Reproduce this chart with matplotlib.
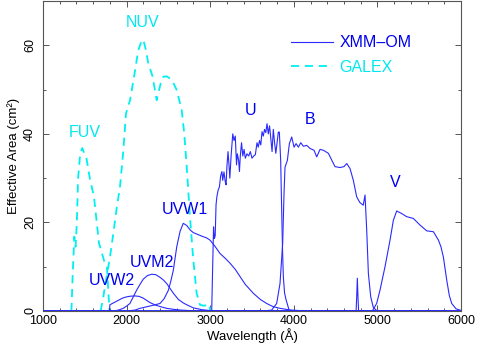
import matplotlib
matplotlib.use('Agg')
import matplotlib.pyplot as plt
from matplotlib.ticker import MultipleLocator

plt.rcParams['font.family'] = ['Liberation Sans', 'DejaVu Sans']

# GALEX effective areas (dashed cyan)
fuv_wave = [1340, 1355, 1375, 1390, 1405, 1420, 1445, 1470, 1495, 1520, 1560, 1610, 1670, 1740, 1765, 1780, 1795]
fuv_area = [0, 8, 16.8, 14.5, 20, 30, 35.5, 36.8, 35.5, 34.5, 30, 25.8, 15.3, 10.8, 10, 5, 0]

nuv_wave = [1690, 1720, 1754, 1800, 1841, 1880, 1921, 1960, 1993, 2041, 2090, 2140, 2170, 2200, 2230, 2260,
            2312, 2360, 2390, 2408, 2440, 2480, 2520, 2560, 2600, 2659, 2690, 2719, 2758, 2798, 2838, 2878,
            2920, 2960, 2990, 3000]
nuv_area = [0, 3, 7, 12, 17.5, 23, 28, 36, 44.6, 47.6, 53, 58.9, 60.5, 61.3, 59, 55.9,
            52.9, 47.6, 50, 51.4, 52.9, 53, 52.5, 51.5, 49.9, 45.4, 40, 32.6, 21.3, 11.5, 4, 1.4,
            1.2, 1.3, 1.5, 0]

# XMM-OM effective areas (solid blue)
uvw2_wave = [1795, 1800, 1850, 1900, 1950, 2000, 2050, 2100, 2150, 2200, 2280, 2350, 2420, 2480, 2550, 2650, 2800, 3000, 6000]
uvw2_area = [0, 1.4, 1.9, 2.4, 2.9, 3.2, 3.35, 3.4, 3.3, 2.9, 1.9, 1.3, 0.9, 0.6, 0.4, 0.2, 0.05, 0, 0]

uvm2_wave = [1000, 1850, 1900, 1960, 2000, 2040, 2080, 2120, 2160, 2200, 2250, 2300, 2350, 2400, 2440, 2480,
             2520, 2560, 2620, 2680, 2720, 2800, 2900, 3000, 6000]
uvm2_area = [0, 0, 0.2, 0.6, 1.1, 1.7, 3.2, 4.7, 6.0, 7.2, 8.0, 8.3, 8.2, 7.6, 7.0, 6.2,
             5.1, 4.0, 2.6, 1.8, 1.4, 0.7, 0.3, 0.1, 0]

uvw1_wave = [1000, 2000, 2100, 2160, 2250, 2320, 2400, 2450, 2500, 2530, 2559, 2600, 2640, 2678, 2720, 2760,
             2798, 2850, 2900, 2958, 2998, 3050, 3117, 3180, 3237, 3300, 3356, 3420, 3516, 3600, 3675,
             3750, 3835, 3950, 4100, 6000]
uvw1_area = [0, 0, 0.2, 0.6, 1.0, 1.3, 1.7, 2.8, 4.7, 6.8, 9.2, 14.5, 18.0, 19.8, 19.3, 18.3,
             17.7, 17.3, 16.9, 16.5, 16.0, 14.8, 13.0, 11.9, 10.8, 9.4, 7.8, 6.0, 4.0, 2.6, 1.7,
             1.0, 0.6, 0.25, 0.05, 0]

u_wave = [1000, 3018, 3025, 3032, 3040, 3050, 3060, 3070, 3080, 3095, 3110, 3125, 3140, 3150, 3165, 3180,
          3190, 3200, 3213, 3225, 3235, 3250, 3270, 3285, 3300, 3315, 3325, 3340, 3350, 3360, 3375,
          3390, 3405, 3420, 3440, 3460, 3480, 3500, 3520, 3540, 3560, 3575, 3590, 3605, 3620, 3635,
          3650, 3665, 3680, 3695, 3710, 3725, 3740, 3755, 3770, 3785, 3800, 3815, 3827, 3843, 3855,
          3865, 3875, 3890, 3908, 3947, 6000]
u_area = [0, 0, 6, 12, 19, 16.4, 17, 24, 25.8, 27.3, 28, 30.5, 31.5, 29.5, 31.4, 29.2,
          28.5, 32.6, 36, 33, 30, 35, 40, 38.5, 39.5, 33, 35.5, 34, 31.5, 35, 38,
          35, 36.5, 34.5, 35.5, 35, 36, 34.5, 35, 35.3, 38, 37, 38.5, 37.5, 40.5, 39.5,
          41, 40.3, 42.3, 40, 41.8, 39, 36, 41, 38, 35.6, 38, 40.4, 40.4, 34, 22.8,
          14, 7.7, 4, 2.5, 0, 0]

b_wave = [1000, 3600, 3680, 3735, 3795, 3835, 3867, 3883, 3895, 3923, 3947, 3975, 4003, 4027, 4055, 4083,
          4115, 4155, 4195, 4242, 4274, 4314, 4354, 4414, 4453, 4493, 4553, 4600, 4633, 4672, 4712,
          4752, 4790, 4831, 4852, 4872, 4892, 4920, 4951, 4991, 5050, 6000]
b_area = [0, 0, 0.1, 0.2, 1.7, 6.2, 15.3, 26.5, 32.5, 34, 37.8, 39.3, 37, 37.8, 37, 38,
          37.2, 37.4, 36.7, 36.3, 34.8, 36.5, 36.3, 35.6, 34.1, 32.6, 32.4, 32.6, 33.3, 32.2, 29.5,
          25.8, 24.5, 23.9, 26.2, 18.3, 8.5, 3.2, 0.8, 0.1, 0, 0]

v_wave = [1000, 4745, 4752, 4760, 4768, 4775, 4940, 4951, 4991, 5031, 5091, 5151, 5191, 5231, 5260, 5291,
          5350, 5430, 5510, 5590, 5670, 5730, 5760, 5789, 5829, 5860, 5889, 5940, 5990, 6000]
v_area = [0, 0, 3, 7.4, 3, 0, 0, 0.4, 1.7, 4.7, 10, 16, 20.5, 22.6, 22.3, 22,
          21.3, 20.9, 19.4, 18.1, 17.9, 16, 14.5, 12.2, 7, 3.5, 1.7, 0.5, 0.2, 0]

xmm_curves = [(uvw2_wave, uvw2_area), (uvm2_wave, uvm2_area), (uvw1_wave, uvw1_area),
              (u_wave, u_area), (b_wave, b_area), (v_wave, v_area)]

# filter name labels (text, x, y)
galex_labels = [('NUV', 2196, 65.2), ('FUV', 1502, 40.2)]
xmm_labels = [('U', 3488, 45.3), ('B', 4194, 43.3), ('V', 5211, 29.1),
              ('UVW1', 2699, 23.0), ('UVM2', 2304, 11.0), ('UVW2', 1825, 7.0)]

blue = '#2a2aff'
cyan = '#00f0f0'

fig = plt.figure(figsize=(4.84, 3.43), dpi=100)
ax = fig.add_axes([0.0888, 0.0933, 0.8637, 0.9037])

for i, (w, a) in enumerate(xmm_curves):
    ax.plot(w, a, color=blue, lw=0.8, label='XMM\u2013OM' if i == 0 else None, zorder=3)

ax.plot(fuv_wave, fuv_area, color=cyan, lw=1.3, dashes=(4.5, 3.2), label='GALEX', zorder=2)
ax.plot(nuv_wave, nuv_area, color=cyan, lw=1.3, dashes=(4.5, 3.2), zorder=2)

for txt, x, y in galex_labels:
    ax.text(x, y, txt, color='#00e8f0', fontsize=11.5, ha='center', va='center')
for txt, x, y in xmm_labels:
    ax.text(x, y, txt, color='#0000ee', fontsize=11.5, ha='center', va='center')

ax.set_xlim(1000, 6000)
ax.set_ylim(0, 70)
ax.xaxis.set_major_locator(MultipleLocator(1000))
ax.xaxis.set_minor_locator(MultipleLocator(200))
ax.yaxis.set_major_locator(MultipleLocator(20))
ax.yaxis.set_minor_locator(MultipleLocator(10))
ax.tick_params(which='both', direction='in', top=True, right=True, color='#555555', labelsize=9)
ax.tick_params(which='major', length=4.5, width=0.7)
ax.tick_params(which='minor', length=2.5, width=0.7)
ax.tick_params(axis='x', pad=3)
ax.tick_params(axis='y', pad=5)
for lab in ax.get_yticklabels():
    lab.set_rotation(90)
    lab.set_va('center')
for s in ax.spines.values():
    s.set_color('#555555')
    s.set_linewidth(0.8)

ax.set_xlabel('Wavelength (\u00c5)', fontsize=9.5, labelpad=1)
ax.set_ylabel('Effective Area (cm\u00b2)', fontsize=9.5, labelpad=3)

leg = ax.legend(loc='upper left', bbox_to_anchor=(0.574, 0.915), frameon=False, fontsize=11.5,
                handlelength=2.65, handletextpad=0.4, labelspacing=0.6, borderpad=0,
                labelcolor=['#0000ee', '#00e8f0'])

fig.savefig('out.png', dpi=100)
